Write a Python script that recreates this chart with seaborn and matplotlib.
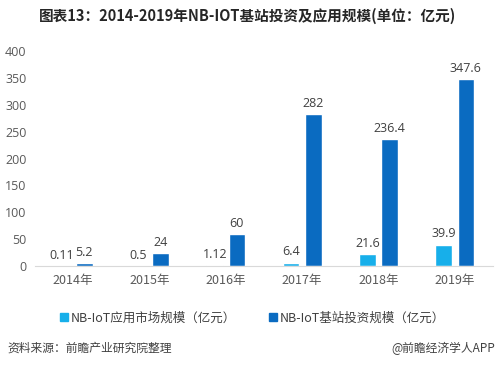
import pandas as pd
import seaborn as sns
import matplotlib.pyplot as plt

years = ["2014年", "2015年", "2016年", "2017年", "2018年", "2019年"]
app_market = [0.11, 0.5, 1.12, 6.4, 21.6, 39.9]
station_invest = [5.2, 24, 60, 282, 236.4, 347.6]
series_names = ["NB-IoT应用市场规模（亿元）", "NB-IoT基站投资规模（亿元）"]
title = "图表13：2014-2019年NB-IOT基站投资及应用规模(单位：亿元)"
source = "资料来源：前瞻产业研究院整理"
credit = "@前瞻经济学人APP"

sns.set_style("white")
plt.rcParams['font.family'] = ['Noto Sans CJK SC', 'DejaVu Sans']

df = pd.DataFrame({
    "year": years * 2,
    "value": app_market + station_invest,
    "series": [series_names[0]] * len(years) + [series_names[1]] * len(years),
})

colors = ["#17AFEA", "#0A6BC1"]

fig = plt.figure(figsize=(4.99, 3.66), dpi=100)
ax = fig.add_axes([35 / 499, 1 - 266 / 366, 458 / 499, 215 / 366])

sns.barplot(data=df, x="year", y="value", hue="series", order=years,
            hue_order=series_names, palette=colors, width=0.58, gap=0.25,
            ax=ax, legend=False, saturation=1)

# value labels above each bar
for cont, vals in zip(ax.containers, [app_market, station_invest]):
    ax.bar_label(cont, labels=[f"{v:g}" for v in vals], padding=3,
                 fontsize=9, color="#404040", family="Open Sans")

ax.set_ylim(0, 400)
ax.set_xlim(-0.5, 5.5)
ax.set_yticks(range(0, 401, 50))
ax.set_xlabel("")
ax.set_ylabel("")
ax.tick_params(axis="both", length=0, labelsize=9, labelcolor="#595959")
ax.tick_params(axis="x", pad=6)
ax.tick_params(axis="y", pad=6)
for lbl in ax.get_yticklabels():
    lbl.set_family("Open Sans")
for s in ["top", "right", "left"]:
    ax.spines[s].set_visible(False)
ax.spines["bottom"].set_color("#D9D9D9")

# legend
handles = [plt.Line2D([0], [0], marker="s", linestyle="", markersize=6,
                      markerfacecolor=c, markeredgecolor=c) for c in colors]
fig.legend(handles, series_names, loc="center", bbox_to_anchor=(252 / 499, 1 - 318 / 366),
           ncol=2, frameon=False, fontsize=9, handletextpad=0.1,
           columnspacing=2.6, labelcolor="#404040", handlelength=0.8)

fig.text(248 / 499, 1 - 16 / 366, title, ha="center", va="center", fontsize=10.5,
         fontweight="bold", color="#262626")
fig.text(7 / 499, 1 - 348 / 366, source, ha="left", va="center",
         fontsize=8.5, color="#404040")
fig.text(495 / 499, 1 - 348 / 366, credit, ha="right", va="center",
         fontsize=8.5, color="#404040")

fig.savefig("out.png", dpi=100)
